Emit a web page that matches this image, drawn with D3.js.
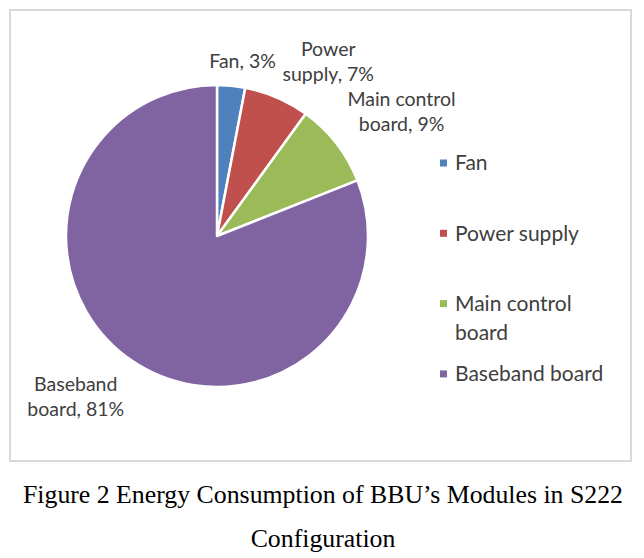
<!DOCTYPE html>
<html>
<head>
<meta charset="utf-8">
<script src="https://cdn.jsdelivr.net/npm/d3@7"></script>
<style>
  html, body { margin: 0; padding: 0; background: #fff; }
  svg { display: block; }
</style>
</head>
<body>
<div id="chart"></div>
<script>
// Energy Consumption of BBU's Modules (S222)
var categories = ["Fan", "Power supply", "Main control board", "Baseband board"];
var shares = [3, 7, 9, 81];
var captionLines = ["Figure 2 Energy Consumption of BBU\u2019s Modules in S222", "Configuration"];

var colors = ["#4F81BD", "#C0504D", "#9BBB59", "#8064A2"];

var W = 644, H = 558;
var cx = 217, cy = 236, radius = 151;
var labelFont = "Lato, 'Open Sans', sans-serif";
var textColor = "#404040";

var svg = d3.select("#chart").append("svg")
	.attr("width", W)
	.attr("height", H);

// chart area border
svg.append("rect")
	.attr("x", 10).attr("y", 10)
	.attr("width", 621).attr("height", 451)
	.attr("fill", "#fff")
	.attr("stroke", "#d9d9d9")
	.attr("stroke-width", 2);

var data = categories.map(function(c, i) { return {name: c, value: shares[i], color: colors[i]}; });

var pie = d3.pie().sort(null).value(function(d) { return d.value; });
var arc = d3.arc().innerRadius(0).outerRadius(radius);
var arcs = pie(data);

var pieG = svg.append("g").attr("transform", "translate(" + cx + "," + cy + ")");

pieG.selectAll("path.slice")
	.data(arcs)
	.enter().append("path")
	.attr("class", "slice")
	.attr("d", arc)
	.attr("fill", function(d) { return d.data.color; })
	.attr("stroke", "#fff")
	.attr("stroke-width", 2.5)
	.attr("stroke-linejoin", "round");

// split a label into two balanced lines when it is too wide
function wrapBalanced(textSel, str, maxW) {
	var words = str.split(" ");
	textSel.text(str);
	if (textSel.node().getComputedTextLength() <= maxW || words.length < 2) return [str];
	var best = null, bestW = Infinity;
	for (var k = 1; k < words.length; k++) {
		var a = words.slice(0, k).join(" "), b = words.slice(k).join(" ");
		textSel.text(a); var wa = textSel.node().getComputedTextLength();
		textSel.text(b); var wb = textSel.node().getComputedTextLength();
		var m = Math.max(wa, wb);
		if (m < bestW) { bestW = m; best = [a, b]; }
	}
	return best;
}

function wrapGreedy(textSel, str, maxW) {
	var words = str.split(" "), lines = [], cur = "";
	words.forEach(function(w) {
		var test = cur ? cur + " " + w : w;
		textSel.text(test);
		if (textSel.node().getComputedTextLength() > maxW && cur) {
			lines.push(cur); cur = w;
		} else cur = test;
	});
	lines.push(cur);
	return lines;
}

// data labels, outside end
var labelG = pieG.selectAll("g.lbl")
	.data(arcs)
	.enter().append("g")
	.attr("class", "lbl");

labelG.each(function(d) {
	var g = d3.select(this);
	var t = g.append("text")
		.attr("font-family", labelFont)
		.attr("font-size", 19.5)
		.attr("fill", textColor)
		.attr("text-anchor", "middle");
	var lines = wrapBalanced(t, d.data.name + ", " + d.data.value + "%", 112);
	t.text(null);
	lines.forEach(function(l, i) {
		t.append("tspan").attr("x", 0).attr("dy", i === 0 ? 0 : 25).text(l);
	});
	var bb = t.node().getBBox();
	var a = (d.startAngle + d.endAngle) / 2;
	var s = Math.sin(a), c = Math.cos(a);
	var ax = s * (radius + 14), ay = -c * (radius + 14);
	var fx = Math.sign(s) * Math.min(1, 3.2 * Math.abs(s));
	var fy = Math.sign(c) * Math.min(1, 3.2 * Math.abs(c));
	var tx = ax + fx * bb.width / 2, ty = ay - fy * bb.height / 2;
	g.attr("transform", "translate(" + (tx - (bb.x + bb.width / 2)) + "," + (ty - (bb.y + bb.height / 2)) + ")");
});

// legend
var legend = svg.append("g").attr("transform", "translate(440,163)");
var items = legend.selectAll("g.item")
	.data(data)
	.enter().append("g")
	.attr("class", "item")
	.attr("transform", function(d, i) { return "translate(0," + (i * 70.3) + ")"; });

items.append("rect")
	.attr("x", 0).attr("y", -3.5)
	.attr("width", 7).attr("height", 7)
	.attr("fill", function(d) { return d.color; });

items.each(function(d) {
	var t = d3.select(this).append("text")
		.attr("x", 15)
		.attr("dy", "0.35em")
		.attr("font-family", labelFont)
		.attr("font-size", 21)
		.attr("fill", textColor);
	var lines = wrapGreedy(t, d.name, 165);
	t.text(null);
	lines.forEach(function(l, i) {
		t.append("tspan").attr("x", 15).attr("y", i * 29).attr("dy", "0.35em").text(l);
	});
});

// caption
svg.selectAll("text.caption")
	.data(captionLines)
	.enter().append("text")
	.attr("class", "caption")
	.attr("x", 323)
	.attr("y", function(d, i) { return 503 + i * 44; })
	.attr("text-anchor", "middle")
	.attr("font-family", "'Liberation Serif', 'Times New Roman', serif")
	.attr("font-size", 25.8)
	.attr("fill", "#000")
	.text(function(d) { return d; });
</script>
</body>
</html>
